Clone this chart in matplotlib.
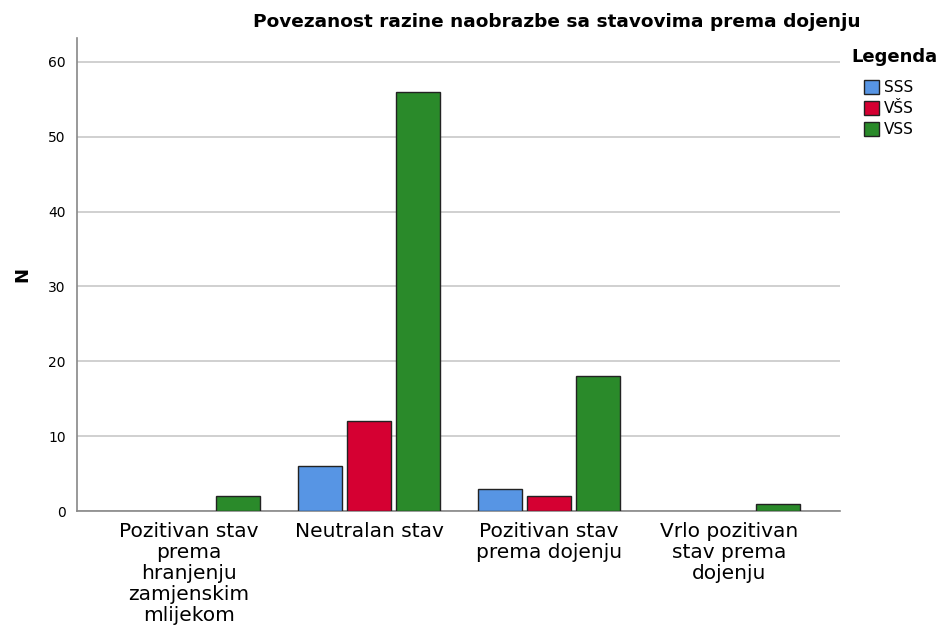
import matplotlib
matplotlib.use('Agg')
import matplotlib.pyplot as plt
import numpy as np

categories = ['Pozitivan stav\nprema\nhranjenju\nzamjenskim\nmlijekom',
              'Neutralan stav',
              'Pozitivan stav\nprema dojenju',
              'Vrlo pozitivan\nstav prema\ndojenju']
series_names = ['SSS', 'VŠS', 'VSS']
sss = [0, 6, 3, 0]
vss_visa = [0, 12, 2, 0]
vss = [2, 56, 18, 1]
colors = ['#5795e4', '#d50032', '#2a8a2a']
y_ticks = [0, 10, 20, 30, 40, 50, 60]

fig = plt.figure(figsize=(9.41, 6.28), dpi=100)
ax = fig.add_axes([0.0818, 0.1863, 0.8109, 0.7532])

x = np.arange(len(categories))
width = 0.245
step = 0.272
for i, (vals, name, c) in enumerate(zip([sss, vss_visa, vss], series_names, colors)):
    # zero counts are not drawn at all in the reference
    lw = [1.0 if v > 0 else 0 for v in vals]
    ax.bar(x + (i - 1) * step, vals, width, color=c, edgecolor='#222222',
           linewidth=lw, label=name, zorder=3)

ax.set_xlim(-0.622, 3.617)
ax.set_ylim(0, 63.2)
ax.set_yticks(y_ticks)
ax.yaxis.grid(True, color='#c8c8c8', linewidth=1.2, zorder=0)
ax.tick_params(axis='both', length=0)
ax.tick_params(axis='y', labelsize=10, pad=8)
ax.set_xticks(x)
ax.set_xticklabels(categories, fontsize=14.5, linespacing=1.13)
ax.tick_params(axis='x', pad=8)
for s in ['top', 'right']:
    ax.spines[s].set_visible(False)
for s in ['left', 'bottom']:
    ax.spines[s].set_color('#888888')
    ax.spines[s].set_linewidth(1.2)

ax.set_ylabel('N', fontsize=13, fontweight='bold', labelpad=12)
ax.set_title('Povezanost razine naobrazbe sa stavovima prema dojenju',
             fontsize=13.3, fontweight='bold', pad=8, x=0.629)

fig.text(851 / 941, 1 - 57 / 628, 'Legenda', fontsize=13, fontweight='bold',
         va='center', ha='left')
leg = fig.legend(loc='upper left', bbox_to_anchor=(864 / 941, 1 - 80 / 628),
                 frameon=False, fontsize=11,
                 handlelength=1.0, handleheight=1.0, handletextpad=0.3,
                 labelspacing=0.4, borderaxespad=0, borderpad=0)
for h in leg.legend_handles:
    h.set_linewidth(1.0)
    h.set_edgecolor('#222222')

fig.savefig('out.png', dpi=100)
